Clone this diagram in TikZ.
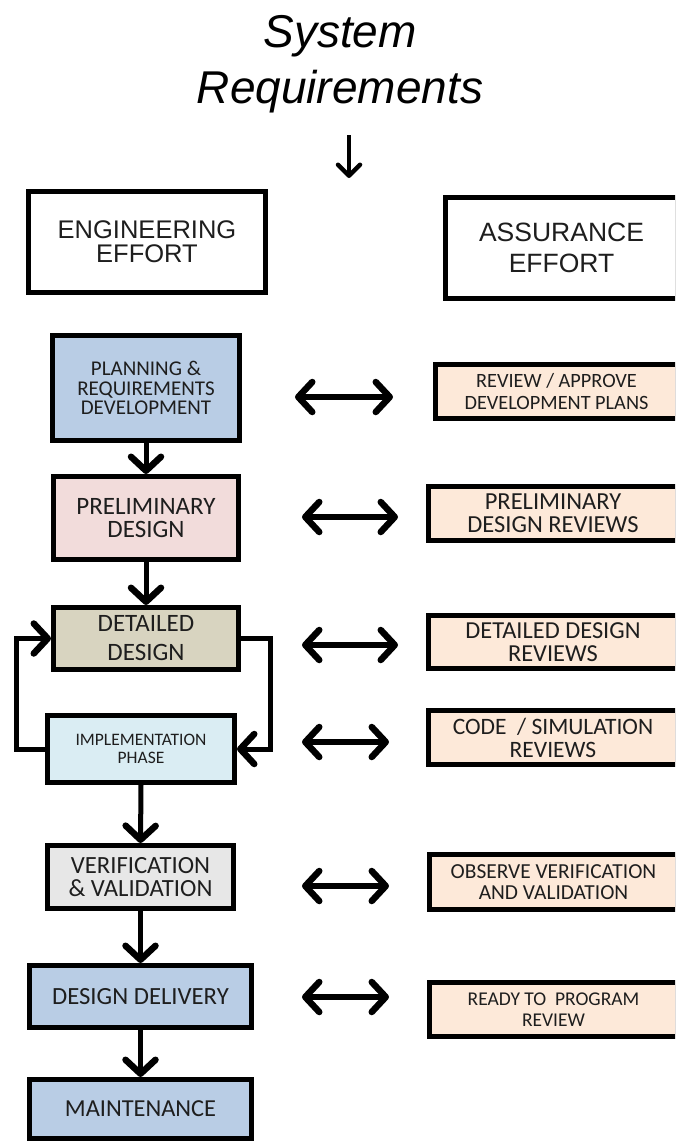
\documentclass[tikz,border=0pt]{standalone}
\usepackage{fontspec}
\setmainfont{Liberation Sans}
\newfontfamily\calfont{Carlito}
\usetikzlibrary{arrows.meta}
\definecolor{planblue}{HTML}{B9CDE5}
\definecolor{prelpink}{HTML}{F2DCDB}
\definecolor{dettan}{HTML}{D8D4C0}
\definecolor{implblue}{HTML}{DAEDF3}
\definecolor{vvgray}{HTML}{E7E7E7}
\definecolor{revpeach}{HTML}{FDE9D9}
\definecolor{txt}{HTML}{1E1E1E}
\tikzset{
  box/.style={draw=black, line width=5pt, align=center, inner sep=0pt, text=txt},
  hdrbox/.style={box, fill=white},
  engbox/.style={box, font=\calfont},
  revbox/.style={box, fill=revpeach, font=\calfont},
  fs/.style 2 args={font=\calfont\fontsize{#1}{#2}\selectfont},
  chev/.tip={Straight Barb[length=14pt,width=30pt,line width=6.5pt,round]},
  downarrow/.style={line width=5pt, -chev},
  looparrow/.style={line width=5pt, line join=miter, -chev},
  dblarrow/.style={line width=5.5pt, chev-chev},
  titlearrow/.style={line width=3.5pt, -{Straight Barb[length=11pt,width=22pt,line width=4.5pt,round]}},
  titletext/.style={font=\itshape\fontsize{46}{55}\selectfont, inner sep=0pt, anchor=base}
}
\begin{document}
\begin{tikzpicture}[x=1pt,y=-1pt]
\useasboundingbox (0,0) rectangle (675,1143);
\clip (0,0) rectangle (675,1143);
% title
\node[titletext] (t1) at (340,47) {System};
\node[titletext] (t2) at (340,103) {Requirements};
\coordinate (ta1) at (349,135);
\coordinate (ta2) at (349,178);
\draw[titlearrow] (ta1) -- (ta2);
% headers
\node[hdrbox, minimum width=237, minimum height=101, font=\fontsize{25.5}{24}\selectfont] (eng) at (147,242) {ENGINEERING\\EFFORT};
\node[hdrbox, minimum width=232, minimum height=101, font=\fontsize{26.5}{31}\selectfont] (ass) at (561.5,248) {ASSURANCE\\EFFORT};
% engineering column
\node[engbox, fill=planblue, minimum width=187, minimum height=105, fs={21}{19.5}] (plan) at (146,388) {PLANNING \&\\REQUIREMENTS\\DEVELOPMENT};
\node[engbox, fill=prelpink, minimum width=185, minimum height=83, fs={25}{23}] (prel) at (146,518) {PRELIMINARY\\DESIGN};
\node[engbox, fill=dettan, minimum width=185, minimum height=62, fs={25}{29}] (det) at (146,638.5) {DETAILED\\DESIGN};
\node[engbox, fill=implblue, minimum width=187, minimum height=67, fs={17.5}{18}] (impl) at (141,749) {IMPLEMENTATION\\PHASE};
\node[engbox, fill=vvgray, minimum width=186, minimum height=63, fs={24.7}{23}] (vv) at (140.5,877) {VERIFICATION\\\& VALIDATION};
\node[engbox, fill=planblue, minimum width=222, minimum height=62, fs={24.7}{24}] (dd) at (140.5,996.5) {DESIGN DELIVERY};
\node[engbox, fill=planblue, minimum width=222, minimum height=59, fs={24.4}{24}] (mnt) at (140.5,1109) {MAINTENANCE};
% assurance column
\node[revbox, minimum width=242, minimum height=54, fs={20.3}{22}] (r1) at (556.5,391.5) {REVIEW / APPROVE\\DEVELOPMENT PLANS};
\node[revbox, minimum width=249, minimum height=54, fs={24.5}{23}] (r2) at (553,513.5) {PRELIMINARY\\DESIGN REVIEWS};
\node[revbox, minimum width=249, minimum height=53, fs={24.4}{23}] (r3) at (553,642) {DETAILED DESIGN\\REVIEWS};
\node[revbox, minimum width=249, minimum height=54, fs={23.5}{23}] (r4) at (553,737.5) {CODE~~/ SIMULATION\\REVIEWS};
\node[revbox, minimum width=248, minimum height=55, fs={21.4}{20.5}] (r5) at (553.5,882) {OBSERVE VERIFICATION\\AND VALIDATION};
\node[revbox, minimum width=248, minimum height=54, fs={19.5}{21}] (r6) at (553.5,1009.5) {READY TO~~PROGRAM\\REVIEW};
% flow arrows
\draw[downarrow] (plan.south) -- (prel.north);
\draw[downarrow] (prel.south) -- (det.north);
\draw[downarrow] (impl.south) -- (vv.north);
\draw[downarrow] (vv.south) -- (dd.north);
\draw[downarrow] (dd.south) -- (mnt.north);
% loop between detailed design and implementation
\draw[looparrow] (impl.west) -- ++(-29,0) |- (det.west);
\draw[looparrow] (det.east) -- ++(29,0) |- (impl.east);
% double arrows
\coordinate (a1l) at (295,397); \coordinate (a1r) at (393,397);
\coordinate (a2l) at (302,517); \coordinate (a2r) at (398,517);
\coordinate (a3l) at (302,645); \coordinate (a3r) at (398,645);
\coordinate (a4l) at (302,742); \coordinate (a4r) at (389,742);
\coordinate (a5l) at (302,886); \coordinate (a5r) at (389,886);
\coordinate (a6l) at (302,997); \coordinate (a6r) at (389,997);
\draw[dblarrow] (a1l) -- (a1r);
\draw[dblarrow] (a2l) -- (a2r);
\draw[dblarrow] (a3l) -- (a3r);
\draw[dblarrow] (a4l) -- (a4r);
\draw[dblarrow] (a5l) -- (a5r);
\draw[dblarrow] (a6l) -- (a6r);
\end{tikzpicture}
\end{document}
